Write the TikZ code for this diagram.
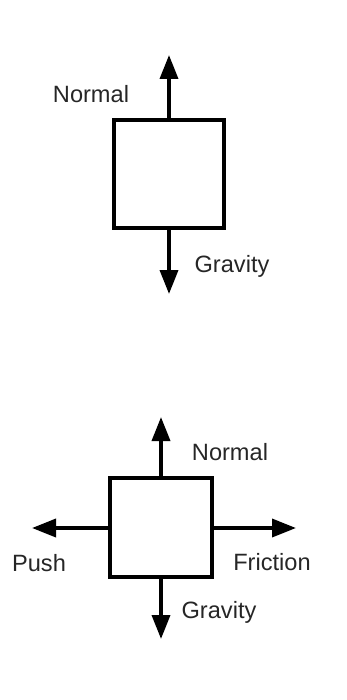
\documentclass[tikz,border=0pt]{standalone}
\usepackage{fontspec}
\setmainfont{Liberation Sans}
\usetikzlibrary{arrows.meta}
\begin{document}
\begin{tikzpicture}[
    x=0.5pt, y=-0.5pt,
    block/.style={rectangle, draw, line width=1.75pt, fill=white, inner sep=0pt},
    force/.style={line width=1.75pt, -{Triangle[length=12pt, width=9pt]}},
    label_text/.style={font=\fontsize{11.8}{14}\selectfont, text=black!85, inner sep=0pt}
]
\useasboundingbox (0,0) rectangle (347,700);

% Block at rest
\node[block, minimum width=55pt, minimum height=54pt] (b1) at (169,174) {};
\coordinate (b1_up) at (169,55);
\coordinate (b1_down) at (169,294);
\draw[force] (b1.north) -- (b1_up);
\draw[force] (b1.south) -- (b1_down);
\node[label_text] (b1_normal) at (91,94) {Normal};
\node[label_text] (b1_gravity) at (232,266) {Gravity};

% Block being pushed
\node[block, minimum width=51pt, minimum height=49.5pt] (b2) at (161,527.5) {};
\coordinate (b2_up) at (161,417);
\coordinate (b2_down) at (161,639);
\coordinate (b2_left) at (32,528);
\coordinate (b2_right) at (296,528);
\draw[force] (b2.north) -- (b2_up);
\draw[force] (b2.south) -- (b2_down);
\draw[force] (b2.west |- b2_left) -- (b2_left);
\draw[force] (b2.east |- b2_right) -- (b2_right);
\node[label_text] (b2_normal) at (230,452) {Normal};
\node[label_text] (b2_push) at (39,563) {Push};
\node[label_text] (b2_friction) at (272,562) {Friction};
\node[label_text] (b2_gravity) at (219,612) {Gravity};

\end{tikzpicture}
\end{document}
